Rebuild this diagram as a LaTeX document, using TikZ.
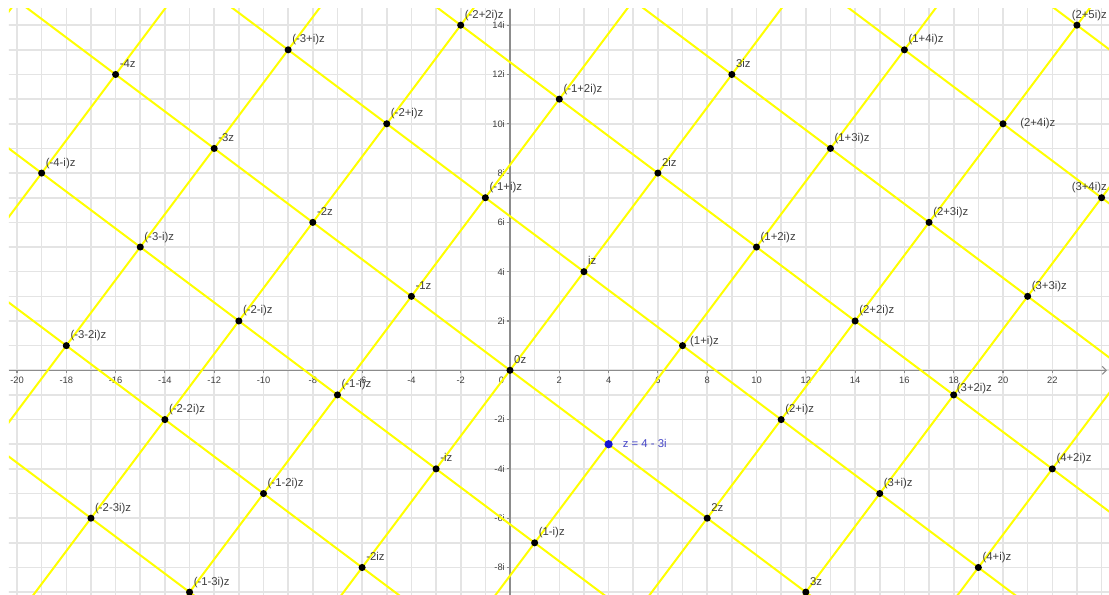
\documentclass[tikz,border=0pt]{standalone}
\usepackage{fontspec}
\setmainfont{Liberation Sans}
\usetikzlibrary{arrows.meta}
\definecolor{gridc}{RGB}{228,228,228}
\definecolor{axisc}{RGB}{140,140,140}
\definecolor{labc}{RGB}{64,64,64}
\definecolor{yel}{RGB}{255,255,0}
\definecolor{zblue}{RGB}{20,20,210}
\definecolor{zlab}{RGB}{70,70,200}
\begin{document}
\begin{tikzpicture}[x=18.4875pt,y=18.4875pt,
  gridline/.style={draw=gridc,line width=1.2pt},
  axisline/.style={draw=axisc,line width=0.8pt},
  axlab/.style={font=\fontsize{7}{8}\selectfont,text=labc,inner sep=0pt},
  yl/.style={draw=yel,line width=1.5pt},
  dot/.style={circle,fill=black,inner sep=0pt,minimum size=5.3pt},
  bluedot/.style={circle,fill=zblue,inner sep=0pt,minimum size=6.2pt},
  plab/.style={font=\fontsize{8.5}{10}\selectfont,text=labc,inner sep=0pt}]
\useasboundingbox (-20.690,-9.116) rectangle (24.300,15.022);
\fill[white] (-20.690,-9.116) rectangle (24.300,15.022);
\begin{scope}
\clip (-20.325,-9.116) rectangle (24.300,14.657);
% grid
\foreach \gx in {-20,...,24} \draw[gridline] (\gx,-9.2) -- (\gx,14.7);
\foreach \gy in {-9,...,14} \draw[gridline] (-20.4,\gy) -- (24.4,\gy);
% axes
\coordinate (xl) at (-20.325,0);
\coordinate (xr) at (24.22,0);
\coordinate (yb) at (0,-9.116);
\coordinate (yt) at (0,14.657);
\draw[axisline,-{Straight Barb[length=3pt,width=6pt]}] (xl) -- (xr);
\draw[axisline] (yb) -- (yt);
\foreach \gx in {-20,-18,...,-2,2,4,...,22} {
  \draw[axisline] (\gx,0) -- (\gx,-0.12);
  \node[axlab] (xa\gx) at (\gx,-0.40) {\gx};
}
\node[axlab] (xa0) at (-0.35,-0.40) {0};
\foreach \gy in {-8,-6,...,-2,2,4,...,14} {
  \draw[axisline] (0,\gy) -- (-0.12,\gy);
  \node[axlab,anchor=east] (ya\gy) at (-0.2,\gy) {\gy i};
}
% lattice lines
\foreach \k in {-3,...,5}
  \draw[yl] ({3*\k+48},{4*\k-36}) -- ({3*\k-48},{4*\k+36});
\foreach \m in {-5,...,5}
  \draw[yl] ({4*\m-36},{-3*\m-48}) -- ({4*\m+36},{-3*\m+48});
% points with standard labels
\foreach \px/\py/\t [count=\i] in {
  -2/14/{(-2+2i)z}, -16/12/{-4z}, -9/13/{(-3+i)z}, 9/12/{3iz}, 16/13/{(1+4i)z},
  2/11/{(-1+2i)z}, -5/10/{(-2+i)z}, -12/9/{-3z}, 13/9/{(1+3i)z}, -19/8/{(-4-i)z},
  6/8/{2iz}, -1/7/{(-1+i)z}, -8/6/{-2z}, 17/6/{(2+3i)z}, -15/5/{(-3-i)z},
  10/5/{(1+2i)z}, 3/4/{iz}, -4/3/{-1z}, 21/3/{(3+3i)z}, -11/2/{(-2-i)z},
  14/2/{(2+2i)z}, -18/1/{(-3-2i)z}, 0/0/{0z}, -7/-1/{(-1-i)z}, -14/-2/{(-2-2i)z},
  11/-2/{(2+i)z}, -3/-4/{-iz}, 22/-4/{(4+2i)z}, -10/-5/{(-1-2i)z}, 15/-5/{(3+i)z},
  -17/-6/{(-2-3i)z}, 8/-6/{2z}, 1/-7/{(1-i)z}, -6/-8/{-2iz}, 19/-8/{(4+i)z},
  -13/-9/{(-1-3i)z}, 12/-9/{3z}} {
  \node[dot] (p\i) at (\px,\py) {};
  \node[plab,anchor=base west] (l\i) at ([shift={(0.16,0.284)}]p\i.center) {\t};
}
% points with shifted labels
\node[dot] (q1) at (23,14) {};
\node[plab,anchor=base east] (m1) at ([shift={(1.22,0.284)}]q1.center) {(2+5i)z};
\node[dot] (q2) at (24,7) {};
\node[plab,anchor=base east] (m2) at ([shift={(0.22,0.284)}]q2.center) {(3+4i)z};
\node[dot] (q3) at (20,10) {};
\node[plab,anchor=west] (m3) at ([shift={(0.69,0)}]q3.center) {(2+4i)z};
\node[dot] (q4) at (7,1) {};
\node[plab,anchor=west] (m4) at ([shift={(0.30,0.15)}]q4.center) {(1+i)z};
\node[dot] (q5) at (18,-1) {};
\node[plab,anchor=west] (m5) at ([shift={(0.12,0.24)}]q5.center) {(3+2i)z};
\node[bluedot] (z) at (4,-3) {};
\node[plab,anchor=west,text=zlab] (zl) at ([shift={(0.57,0.03)}]z.center) {z = 4 - 3i};
\end{scope}
\end{tikzpicture}
\end{document}
